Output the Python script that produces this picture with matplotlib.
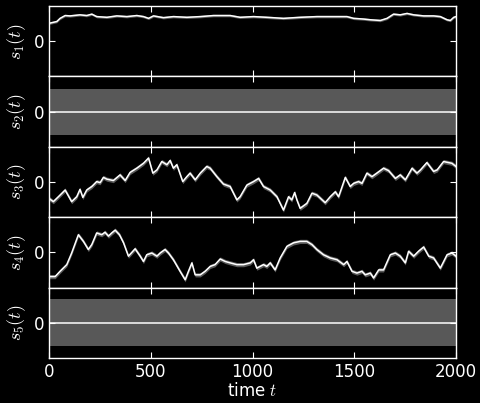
import matplotlib
matplotlib.use('Agg')
import matplotlib.pyplot as plt
import numpy as np

# estimated signal traces (time, value)
t1 = [0, 38, 54, 79, 103, 152, 185, 210, 234, 284, 333, 382, 431, 464, 489, 513,
      562, 611, 677, 743, 808, 890, 939, 1005, 1070, 1152, 1234, 1316, 1398, 1464,
      1497, 1546, 1579, 1628, 1661, 1693, 1726, 1759, 1792, 1841, 1890, 1923, 1956,
      1972, 1989, 2000]
s1 = [0.51, 0.56, 0.65, 0.73, 0.72, 0.75, 0.73, 0.77, 0.70, 0.68, 0.72, 0.70, 0.73,
      0.70, 0.65, 0.72, 0.67, 0.70, 0.68, 0.70, 0.73, 0.73, 0.68, 0.70, 0.68, 0.65,
      0.68, 0.70, 0.70, 0.70, 0.65, 0.63, 0.61, 0.59, 0.65, 0.77, 0.75, 0.79, 0.75,
      0.72, 0.72, 0.70, 0.61, 0.59, 0.68, 0.70]

t2 = [0, 2000]
s2 = [0.0, 0.0]

t3 = [0, 21, 46, 79, 111, 136, 152, 166, 185, 210, 234, 251, 267, 284, 316, 349,
      374, 398, 431, 464, 489, 510, 530, 554, 579, 595, 611, 628, 657, 677, 693, 718,
      743, 775, 792, 825, 857, 890, 923, 939, 972, 1005, 1030, 1054, 1087, 1120, 1152,
      1177, 1193, 1207, 1218, 1234, 1267, 1292, 1316, 1357, 1382, 1407, 1423, 1456,
      1480, 1497, 1521, 1538, 1562, 1587, 1611, 1644, 1669, 1702, 1726, 1751, 1784,
      1808, 1825, 1857, 1890, 1907, 1939, 1980, 2000]
s3 = [-0.47, -0.56, -0.42, -0.23, -0.56, -0.42, -0.21, -0.44, -0.23, -0.13, 0.01,
      -0.02, 0.13, 0.08, 0.04, 0.20, 0.04, 0.27, 0.39, 0.53, 0.68, 0.25, 0.34, 0.58,
      0.49, 0.61, 0.39, 0.49, 0.01, 0.15, 0.25, 0.06, 0.25, 0.44, 0.39, 0.15, -0.06,
      -0.13, -0.51, -0.42, -0.09, 0.01, 0.10, -0.13, -0.23, -0.42, -0.80, -0.42, -0.51,
      -0.30, -0.51, -0.75, -0.61, -0.32, -0.37, -0.59, -0.42, -0.28, -0.42, 0.13, -0.13,
      -0.04, 0.01, -0.04, 0.25, 0.15, 0.25, 0.39, 0.32, 0.10, 0.20, 0.06, 0.39, 0.25,
      0.34, 0.55, 0.30, 0.34, 0.58, 0.53, 0.44]

t4 = [0, 30, 54, 87, 111, 144, 169, 193, 210, 234, 259, 275, 292, 308, 325, 346,
      366, 390, 423, 448, 464, 480, 505, 530, 546, 570, 587, 611, 644, 669, 685, 702,
      718, 743, 767, 792, 816, 841, 866, 890, 923, 956, 989, 1005, 1021, 1054, 1070,
      1087, 1111, 1136, 1169, 1202, 1234, 1267, 1292, 1316, 1349, 1382, 1415, 1448,
      1464, 1489, 1513, 1538, 1554, 1579, 1595, 1620, 1644, 1677, 1702, 1726, 1751,
      1767, 1792, 1816, 1841, 1866, 1890, 1923, 1956, 1980, 2000]
s4 = [-0.69, -0.69, -0.54, -0.35, -0.02, 0.50, 0.31, 0.08, 0.22, 0.55, 0.50, 0.57,
      0.46, 0.55, 0.63, 0.50, 0.27, -0.11, 0.10, -0.11, -0.26, -0.07, -0.02, -0.11,
      -0.02, 0.08, -0.02, -0.21, -0.54, -0.78, -0.54, -0.30, -0.64, -0.64, -0.54, -0.40,
      -0.35, -0.19, -0.26, -0.30, -0.35, -0.35, -0.30, -0.21, -0.45, -0.35, -0.40, -0.30,
      -0.50, -0.16, 0.17, 0.27, 0.31, 0.31, 0.22, 0.08, -0.07, -0.16, -0.21, -0.35,
      -0.26, -0.54, -0.59, -0.54, -0.64, -0.59, -0.73, -0.50, -0.50, -0.07, -0.02, -0.11,
      -0.30, 0.03, -0.11, 0.03, 0.15, -0.11, -0.16, -0.45, -0.07, -0.02, -0.11]

t5 = [0, 2000]
s5 = [0.0, 0.0]

# posterior spread around each trace
spread = [0.035, 0.655, 0.06, 0.06, 0.66]

times = [t1, t2, t3, t4, t5]
signals = [s1, s2, s3, s4, s5]

plt.rcParams.update({
    'figure.facecolor': 'black',
    'axes.facecolor': 'black',
    'axes.edgecolor': 'white',
    'text.color': 'white',
    'axes.labelcolor': 'white',
    'xtick.color': 'white',
    'ytick.color': 'white',
    'font.size': 12,
    'mathtext.fontset': 'cm',
})

fig, axes = plt.subplots(5, 1, sharex=True, figsize=(4.81, 4.03), dpi=100)
fig.subplots_adjust(left=0.102, right=0.948, top=0.985, bottom=0.112, hspace=0)

for i, ax in enumerate(axes):
    t = np.array(times[i])
    s = np.array(signals[i])
    ax.fill_between(t, s - spread[i], s + spread[i], color='white', alpha=0.35, lw=0)
    ax.plot(t, s, color='white', lw=1.1)
    ax.set_ylim(-1, 1)
    ax.set_yticks([0])
    ax.set_xlim(0, 2000)
    ax.set_xticks([0, 500, 1000, 1500, 2000])
    ax.tick_params(direction='in', top=True, right=True, length=4, labelsize=12)
    ax.set_ylabel(r'$s_{%d}(t)$' % (i + 1), fontsize=13)
    for sp in ax.spines.values():
        sp.set_linewidth(1.0)

axes[-1].set_xlabel(r'time $t$', fontsize=12, labelpad=1)

fig.savefig('out.png', dpi=100, facecolor='black')
